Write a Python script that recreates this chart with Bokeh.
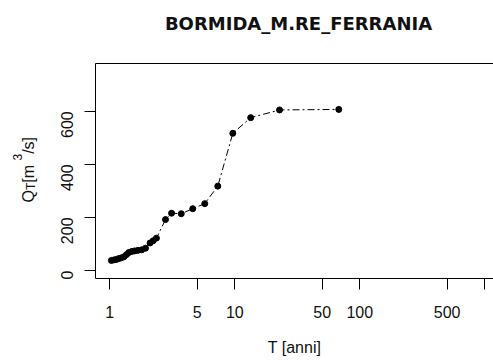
from math import pi
from bokeh.plotting import figure
from bokeh.layouts import row, column
from bokeh.models import Range1d, FixedTicker, LinearAxis, NumeralTickFormatter
from bokeh.core.properties import value
from bokeh.embed import file_html
from bokeh.resources import INLINE

# ---- data ----
title_text = "BORMIDA_M.RE_FERRANIA"
T_years = [1.03, 1.08, 1.13, 1.18, 1.24, 1.30, 1.36, 1.42, 1.50, 1.58, 1.68, 1.80,
           1.93, 2.10, 2.22, 2.36, 2.79, 3.12, 3.73, 4.61, 5.75, 7.31, 9.64, 13.4,
           22.8, 67.9]
Q_flow = [38, 40, 42, 45, 48, 52, 60, 68, 72, 74, 76, 78,
          84, 104, 112, 122, 192, 216, 214, 233, 252, 318, 517, 576,
          605, 607]
x_ticks = [1, 5, 10, 50, 100, 500, 1000]
y_ticks = [0, 200, 400, 600]
x_label = "T [anni]"
# y label pieces: (text, role)  role: main / sub / sup
y_label_parts = [("Q", "main"), ("T", "sub"), (" [m", "main"), ("3", "sup"), ("/s]", "main")]

FONT = "Liberation Sans"
TXT = "#111111"
W = 493
LAB_W = 44
TITLE_H = 40
H = 363 - TITLE_H
B_TOP, B_BOTTOM = 23, 85          # borders of the main frame (shared by the label strip)
FRAME_H = H - B_TOP - B_BOTTOM


def blank(width, height, top=0, bottom=0):
    f = figure(width=width, height=height,
               x_range=Range1d(0, width), y_range=Range1d(0, height - top - bottom),
               x_axis_location=None, y_axis_location=None,
               output_backend="svg", toolbar_location=None, min_border=0,
               min_border_left=0, min_border_right=0, min_border_top=top, min_border_bottom=bottom,
               background_fill_color="white", border_fill_color="white")
    f.outline_line_color = None
    f.grid.visible = False
    return f


# ---- main plot ----
p = figure(width=W - LAB_W, height=H, x_axis_type="log",
           x_range=Range1d(10 ** -0.1144, 10 ** 3.0696), y_range=Range1d(-30, 780),
           output_backend="svg", toolbar_location=None,
           min_border_left=95 - LAB_W, min_border_right=0,
           min_border_top=B_TOP, min_border_bottom=B_BOTTOM,
           background_fill_color="white", border_fill_color="white")
p.outline_line_color = None
p.xgrid.visible = False
p.ygrid.visible = False

xb = p.below[0]
xb.ticker = FixedTicker(ticks=x_ticks)
xb.formatter = NumeralTickFormatter(format="0")
xb.major_label_overrides = {1000: ""}
yl = p.left[0]
yl.ticker = FixedTicker(ticks=y_ticks)
yl.major_label_orientation = pi / 2

for ax in (xb, yl):
    ax.axis_line_color = "black"
    ax.axis_line_width = 1
    ax.major_tick_out = 11
    ax.major_tick_in = 0
    ax.minor_tick_out = 0
    ax.minor_tick_in = 0
    ax.major_tick_line_color = "black"
    ax.major_label_text_font = FONT
    ax.major_label_text_font_size = "16px"
    ax.major_label_text_color = TXT
xb.major_label_standoff = 16
yl.major_label_standoff = 17

xb.axis_label = x_label
xb.axis_label_text_font = FONT
xb.axis_label_text_font_size = "16px"
xb.axis_label_text_font_style = "normal"
xb.axis_label_text_color = TXT
xb.axis_label_standoff = 18

top = LinearAxis(ticker=FixedTicker(ticks=[]), major_tick_out=0, major_tick_in=0,
                 minor_tick_out=0, minor_tick_in=0, axis_line_color="black",
                 major_label_text_font_size="0px")
p.add_layout(top, "above")

p.line(T_years, Q_flow, line_color="black", line_width=1, line_dash="2 3 7 3")
p.scatter(T_years, Q_flow, size=6, fill_color="black", line_color="black")

# ---- title strip ----
tfig = blank(W, TITLE_H)
tfig.text(x=[298], y=[TITLE_H - 23], text=[title_text], text_font=value("DejaVu Sans"),
          text_font_style="bold", text_font_size="18px", text_align="center",
          text_baseline="middle", text_color=TXT)

# ---- y axis label (with subscript / superscript) in a narrow side strip ----
# its frame has the same top/bottom borders as the main frame, 1 data unit = 1 px
lab = blank(LAB_W, H, top=B_TOP, bottom=B_BOTTOM)
widths = {"Q": 0.778, "T": 0.611, " ": 0.278, "[": 0.278, "m": 0.833, "3": 0.556,
          "/": 0.278, "s": 0.5, "]": 0.278}
anchor_x = 27.5
anchor_y = (TITLE_H + B_TOP + FRAME_H) - 202.0   # page y 202 -> frame units from bottom
adv = 0.0
xs, ys, ts, sizes, xo, yo = [], [], [], [], [], []
for txt, role in y_label_parts:
    size = 16 if role == "main" else 12
    dx = 0 if role == "main" else (3 if role == "sub" else -11)
    xs.append(anchor_x)
    ys.append(anchor_y)
    xo.append(dx)
    yo.append(-adv)
    ts.append(txt)
    sizes.append(f"{size}px")
    adv += sum(widths[c] for c in txt) * size
lab.text(x=xs, y=ys, text=ts, x_offset=xo, y_offset=yo, angle=pi / 2,
         text_font=value(FONT), text_font_size=sizes,
         text_align="left", text_baseline="alphabetic", text_color=TXT)

layout = column(tfig, row(lab, p, spacing=0), spacing=0)
open("out.html", "w").write(file_html(layout, INLINE))
